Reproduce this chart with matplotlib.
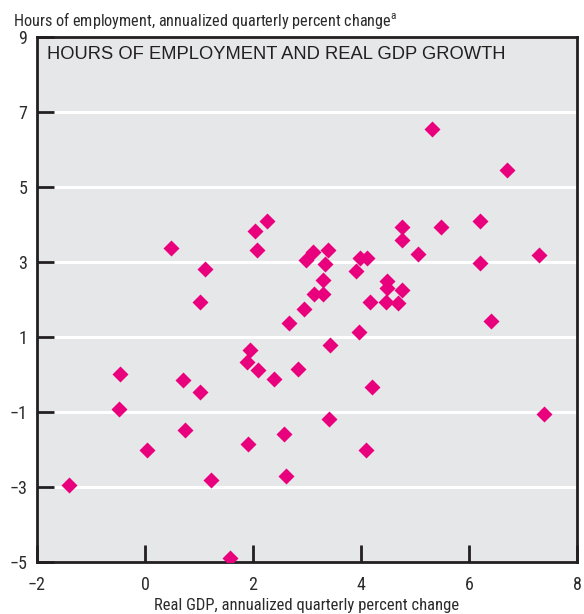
import matplotlib
matplotlib.use('Agg')
import matplotlib.pyplot as plt

# real GDP growth (x) vs hours of employment growth (y)
gdp = [-1.41, -0.46, -0.49, 0.03, 0.48, 0.70, 0.74, 1.02, 1.01, 1.11, 1.22, 1.57,
       1.88, 1.94, 1.91, 2.04, 2.07, 2.09, 2.25, 2.38, 2.58, 2.61, 2.67, 2.84,
       5.31, 6.70, 4.76, 5.48, 6.20, 4.75, 5.06, 7.29, 6.20, 6.41,
       2.98, 3.12, 3.38, 3.34, 3.99, 4.12, 3.91, 3.30, 3.13, 3.30, 2.95,
       4.49, 4.48, 4.75, 4.17, 4.47, 4.68, 3.97, 3.43, 4.20, 3.41, 4.10, 7.39]
hours = [-2.95, 0.01, -0.91, -2.02, 3.37, -0.15, -1.47, -0.47, 1.94, 2.81, -2.81, -4.89,
         0.33, 0.65, -1.86, 3.84, 3.33, 0.12, 4.10, -0.13, -1.59, -2.70, 1.37, 0.15,
         6.54, 5.45, 3.93, 3.93, 4.09, 3.58, 3.21, 3.19, 2.97, 1.44,
         3.05, 3.26, 3.33, 2.95, 3.11, 3.11, 2.76, 2.51, 2.14, 2.16, 1.76,
         2.49, 2.31, 2.26, 1.93, 1.94, 1.91, 1.13, 0.79, -0.33, -1.19, -2.00, -1.06]

xticks = [-2, 0, 2, 4, 6, 8]
yticks = [-5, -3, -1, 1, 3, 5, 7, 9]
grid_y = [-3, -1, 1, 3, 5, 7]

narrow = ['Roboto Condensed', 'DejaVu Sans']
ink = '#231f20'
grey_txt = '#2b2b2b'

fig = plt.figure(figsize=(5.84, 6.14), dpi=100)
ax = fig.add_axes([0.0634, 0.0847, 0.9246, 0.855])
ax.set_facecolor('#e6e7e8')
for y in grid_y:
    ax.axhline(y, color='white', lw=2.2, zorder=1)
ax.plot(gdp, hours, 'D', color='#e8007d', ms=8.5, mec='none', zorder=3)

ax.set_xlim(-2, 8)
ax.set_ylim(-5, 9)
ax.set_xticks(xticks)
ax.set_yticks(yticks)
for s in ax.spines.values():
    s.set_color(ink)
    s.set_linewidth(2)
ax.tick_params(direction='in', length=12, width=2, color=ink, labelcolor=grey_txt,
               labelsize=13)
ax.tick_params(axis='x', pad=10)
ax.tick_params(axis='y', pad=7)
ax.set_xticklabels(['\u22122', '0', '2', '4', '6', '8'])
ax.set_yticklabels(['\u22125', '\u22123', '\u22121', '1', '3', '5', '7', '9'])
for lab in ax.get_xticklabels() + ax.get_yticklabels():
    lab.set_family(narrow)
ax.set_xlabel('Real GDP, annualized quarterly percent change', family=narrow,
              fontsize=12, color=grey_txt, labelpad=3)
fig.text(0.023, 0.967, 'Hours of employment, annualized quarterly percent change$^{\\mathregular{a}}$',
         family=narrow, fontsize=11.7, color=grey_txt, va='center', ha='left')
ax.text(0.018, 0.982, 'HOURS OF EMPLOYMENT AND REAL GDP GROWTH', transform=ax.transAxes,
        family=['Liberation Sans', 'DejaVu Sans'], fontsize=13.2, color=ink, va='top', ha='left')

fig.savefig('out.png', dpi=100)
